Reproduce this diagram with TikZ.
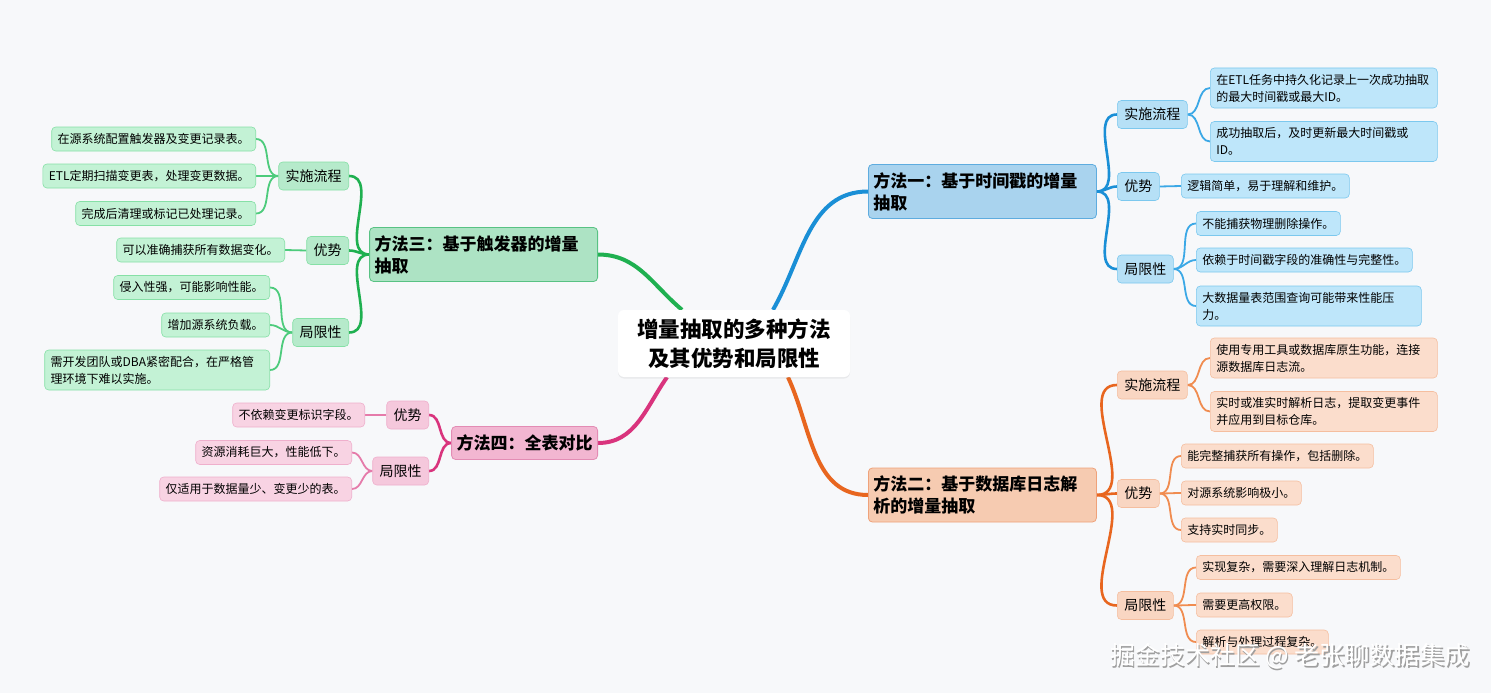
\documentclass[tikz,border=0pt]{standalone}
\usepackage{fontspec}
\setmainfont{Noto Sans CJK SC}
\usetikzlibrary{shadows}

\definecolor{bgc}{HTML}{F7F8FA}
\definecolor{bline}{HTML}{1A8FD6}
\definecolor{bthin}{HTML}{3BA8E6}
\definecolor{btop}{HTML}{A9D3EE}
\definecolor{btopd}{HTML}{5EACDF}
\definecolor{bsub}{HTML}{B6E0F6}
\definecolor{bleaf}{HTML}{BEE6FA}
\definecolor{bleafd}{HTML}{7CC8EE}
\definecolor{oline}{HTML}{E8661F}
\definecolor{othin}{HTML}{F08C50}
\definecolor{otop}{HTML}{F6CBB1}
\definecolor{otopd}{HTML}{EFA27A}
\definecolor{osub}{HTML}{F9D6C2}
\definecolor{oleaf}{HTML}{FBDDCC}
\definecolor{oleafd}{HTML}{F5BE9F}
\definecolor{gline}{HTML}{1FB050}
\definecolor{gthin}{HTML}{4DCB7C}
\definecolor{gtop}{HTML}{ADE3C4}
\definecolor{gtopd}{HTML}{58C283}
\definecolor{gsub}{HTML}{B6EACB}
\definecolor{gleaf}{HTML}{C3F2D5}
\definecolor{gleafd}{HTML}{86E0A6}
\definecolor{pline}{HTML}{D9347D}
\definecolor{pthin}{HTML}{E57BAA}
\definecolor{ptop}{HTML}{F2B6D1}
\definecolor{ptopd}{HTML}{E38CB4}
\definecolor{psub}{HTML}{F5C8DC}
\definecolor{pleaf}{HTML}{F8D3E3}
\definecolor{pleafd}{HTML}{EFAFCC}

\pgfdeclarelayer{back}
\pgfdeclarelayer{lines}
\pgfsetlayers{back,lines,main}

\newcommand{\wmtext}{掘金技术社区 @ 老张聊数据集成}

\tikzset{
  ctrbox/.style={fill=white, rounded corners=6pt, align=center,
    font=\fontsize{21.5}{29}\selectfont\bfseries, minimum width=232pt, minimum height=67pt,
    drop shadow={opacity=0.12, shadow xshift=0pt, shadow yshift=-1.5pt}},
  topic/.style={rounded corners=4pt, line width=0.8pt, align=left,
    font=\fontsize{17}{22}\selectfont\bfseries, minimum height=54pt, inner xsep=5pt},
  sub/.style={rounded corners=4pt, line width=0.6pt, font=\fontsize{14}{16}\selectfont,
    minimum height=28pt, inner xsep=7pt},
  leaf/.style={rounded corners=4pt, line width=0.6pt, align=left,
    font=\fontsize{12}{17}\selectfont, minimum height=24pt, inner xsep=6pt},
  twoline/.style={minimum height=40pt, text width=#1},
  main/.style={line width=4pt},
  mid/.style={line width=2.6pt},
  thin/.style={line width=1.8pt}
}

\begin{document}
\begin{tikzpicture}[x=1pt,y=1pt]
\useasboundingbox (0,0) rectangle (1491,-693);
\begin{pgfonlayer}{back}
\fill[bgc] (0,0) rectangle (1491,-693);
\end{pgfonlayer}

\node[ctrbox] (ctr) at (734,-343.5) {增量抽取的多种方法\\及其优势和局限性};

\node[topic, fill=btop, draw=btopd, text width=218pt, anchor=west] (m1) at (868,-191.5) {方法一：基于时间戳的增量\\抽取};
\node[sub, fill=bsub, draw=bleafd, anchor=west] (m1a) at (1117,-114.5) {实施流程};
\node[sub, fill=bsub, draw=bleafd, anchor=west] (m1b) at (1117,-186.5) {优势};
\node[sub, fill=bsub, draw=bleafd, anchor=west] (m1c) at (1117,-269) {局限性};
\node[leaf, twoline=215pt, fill=bleaf, draw=bleafd, anchor=west] (m1a1) at (1210,-88) {在ETL任务中持久化记录上一次成功抽取\\的最大时间戳或最大ID。};
\node[leaf, twoline=215pt, fill=bleaf, draw=bleafd, anchor=west] (m1a2) at (1210,-141.5) {成功抽取后，及时更新最大时间戳或\\ID。};
\node[leaf, fill=bleaf, draw=bleafd, anchor=west] (m1b1) at (1181,-186) {逻辑简单，易于理解和维护。};
\node[leaf, fill=bleaf, draw=bleafd, anchor=west] (m1c1) at (1196,-223.5) {不能捕获物理删除操作。};
\node[leaf, fill=bleaf, draw=bleafd, anchor=west] (m1c2) at (1196,-260) {依赖于时间戳字段的准确性与完整性。};
\node[leaf, twoline=213pt, fill=bleaf, draw=bleafd, anchor=west] (m1c3) at (1196,-306) {大数据量表范围查询可能带来性能压\\力。};

\node[topic, fill=otop, draw=otopd, text width=218pt, anchor=west] (m2) at (868,-495) {方法二：基于数据库日志解\\析的增量抽取};
\node[sub, fill=osub, draw=oleafd, anchor=west] (m2a) at (1117,-385) {实施流程};
\node[sub, fill=osub, draw=oleafd, anchor=west] (m2b) at (1117,-493.5) {优势};
\node[sub, fill=osub, draw=oleafd, anchor=west] (m2c) at (1117,-605.5) {局限性};
\node[leaf, twoline=215pt, fill=oleaf, draw=oleafd, anchor=west] (m2a1) at (1210,-358) {使用专用工具或数据库原生功能，连接\\源数据库日志流。};
\node[leaf, twoline=215pt, fill=oleaf, draw=oleafd, anchor=west] (m2a2) at (1210,-411.5) {实时或准实时解析日志，提取变更事件\\并应用到目标仓库。};
\node[leaf, fill=oleaf, draw=oleafd, anchor=west] (m2b1) at (1181,-456) {能完整捕获所有操作，包括删除。};
\node[leaf, fill=oleaf, draw=oleafd, anchor=west] (m2b2) at (1181,-493) {对源系统影响极小。};
\node[leaf, fill=oleaf, draw=oleafd, anchor=west] (m2b3) at (1181,-530) {支持实时同步。};
\node[leaf, fill=oleaf, draw=oleafd, anchor=west] (m2c1) at (1196,-567.5) {实现复杂，需要深入理解日志机制。};
\node[leaf, fill=oleaf, draw=oleafd, anchor=west] (m2c2) at (1196,-605) {需要更高权限。};
\node[leaf, fill=oleaf, draw=oleafd, anchor=west] (m2c3) at (1196,-642) {解析与处理过程复杂。};

\node[topic, fill=gtop, draw=gtopd, text width=218pt, anchor=east] (m3) at (598,-254.5) {方法三：基于触发器的增量\\抽取};
\node[sub, fill=gsub, draw=gleafd, anchor=east] (m3a) at (349,-176) {实施流程};
\node[sub, fill=gsub, draw=gleafd, anchor=east] (m3b) at (349,-250.5) {优势};
\node[sub, fill=gsub, draw=gleafd, anchor=east] (m3c) at (349,-332.5) {局限性};
\node[leaf, fill=gleaf, draw=gleafd, anchor=east] (m3a1) at (256,-139) {在源系统配置触发器及变更记录表。};
\node[leaf, fill=gleaf, draw=gleafd, anchor=east] (m3a2) at (256,-176) {ETL定期扫描变更表，处理变更数据。};
\node[leaf, fill=gleaf, draw=gleafd, anchor=east] (m3a3) at (256,-213.5) {完成后清理或标记已处理记录。};
\node[leaf, fill=gleaf, draw=gleafd, anchor=east] (m3b1) at (285,-250) {可以准确捕获所有数据变化。};
\node[leaf, fill=gleaf, draw=gleafd, anchor=east] (m3c1) at (270,-287.5) {侵入性强，可能影响性能。};
\node[leaf, fill=gleaf, draw=gleafd, anchor=east] (m3c2) at (270,-325) {增加源系统负载。};
\node[leaf, twoline=213pt, fill=gleaf, draw=gleafd, anchor=east] (m3c3) at (270,-370) {需开发团队或DBA紧密配合，在严格管\\理环境下难以实施。};

\node[topic, fill=ptop, draw=ptopd, minimum height=33pt, anchor=east] (m4) at (598,-443) {方法四：全表对比};
\node[sub, fill=psub, draw=pleafd, anchor=east] (m4a) at (429,-415) {优势};
\node[sub, fill=psub, draw=pleafd, anchor=east] (m4b) at (429,-471) {局限性};
\node[leaf, fill=pleaf, draw=pleafd, anchor=east] (m4a1) at (365,-415) {不依赖变更标识字段。};
\node[leaf, fill=pleaf, draw=pleafd, anchor=east] (m4b1) at (352,-452.5) {资源消耗巨大，性能低下。};
\node[leaf, fill=pleaf, draw=pleafd, anchor=east] (m4b2) at (352,-489) {仅适用于数据量少、变更少的表。};

\node[font=\fontsize{25}{30}\selectfont] (wm) at (1290,-657) {\makebox[0pt][l]{\raisebox{-1.2pt}{\hspace{1.2pt}\textcolor{gray!75}{\wmtext}}}\textcolor{white}{\wmtext}};

\begin{pgfonlayer}{lines}
\draw[bline, main] ([xshift=39pt]ctr.north) to[out=60,in=180] (m1.west);
\draw[oline, main] ([xshift=54pt]ctr.south) to[out=295,in=180] (m2.west);
\draw[gline, main] ([xshift=-52pt]ctr.north) to[out=140,in=0] (m3.east);
\draw[pline, main] ([xshift=-67pt]ctr.south) to[out=235,in=0] (m4.east);

\draw[bline, mid] (m1.east) to[out=0,in=180] (m1a.west);
\draw[bline, mid] (m1.east) to[out=0,in=180] (m1b.west);
\draw[bline, mid] (m1.east) to[out=0,in=180] (m1c.west);
\draw[bthin, thin] (m1a.east) to[out=0,in=180] (m1a1.west);
\draw[bthin, thin] (m1a.east) to[out=0,in=180] (m1a2.west);
\draw[bthin, thin] (m1b.east) -- (m1b1.west);
\draw[bthin, thin] (m1c.east) to[out=0,in=180] (m1c1.west);
\draw[bthin, thin] (m1c.east) to[out=0,in=180] (m1c2.west);
\draw[bthin, thin] (m1c.east) to[out=0,in=180] (m1c3.west);

\draw[oline, mid] (m2.east) to[out=0,in=180] (m2a.west);
\draw[oline, mid] (m2.east) to[out=0,in=180] (m2b.west);
\draw[oline, mid] (m2.east) to[out=0,in=180] (m2c.west);
\draw[othin, thin] (m2a.east) to[out=0,in=180] (m2a1.west);
\draw[othin, thin] (m2a.east) to[out=0,in=180] (m2a2.west);
\draw[othin, thin] (m2b.east) to[out=0,in=180] (m2b1.west);
\draw[othin, thin] (m2b.east) to[out=0,in=180] (m2b2.west);
\draw[othin, thin] (m2b.east) to[out=0,in=180] (m2b3.west);
\draw[othin, thin] (m2c.east) to[out=0,in=180] (m2c1.west);
\draw[othin, thin] (m2c.east) to[out=0,in=180] (m2c2.west);
\draw[othin, thin] (m2c.east) to[out=0,in=180] (m2c3.west);

\draw[gline, mid] (m3.west) to[out=180,in=0] (m3a.east);
\draw[gline, mid] (m3.west) to[out=180,in=0] (m3b.east);
\draw[gline, mid] (m3.west) to[out=180,in=0] (m3c.east);
\draw[gthin, thin] (m3a.west) to[out=180,in=0] (m3a1.east);
\draw[gthin, thin] (m3a.west) to[out=180,in=0] (m3a2.east);
\draw[gthin, thin] (m3a.west) to[out=180,in=0] (m3a3.east);
\draw[gthin, thin] (m3b.west) -- (m3b1.east);
\draw[gthin, thin] (m3c.west) to[out=180,in=0] (m3c1.east);
\draw[gthin, thin] (m3c.west) to[out=180,in=0] (m3c2.east);
\draw[gthin, thin] (m3c.west) to[out=180,in=0] (m3c3.east);

\draw[pline, mid] (m4.west) to[out=180,in=0] (m4a.east);
\draw[pline, mid] (m4.west) to[out=180,in=0] (m4b.east);
\draw[pthin, thin] (m4a.west) -- (m4a1.east);
\draw[pthin, thin] (m4b.west) to[out=180,in=0] (m4b1.east);
\draw[pthin, thin] (m4b.west) to[out=180,in=0] (m4b2.east);
\end{pgfonlayer}
\end{tikzpicture}
\end{document}
